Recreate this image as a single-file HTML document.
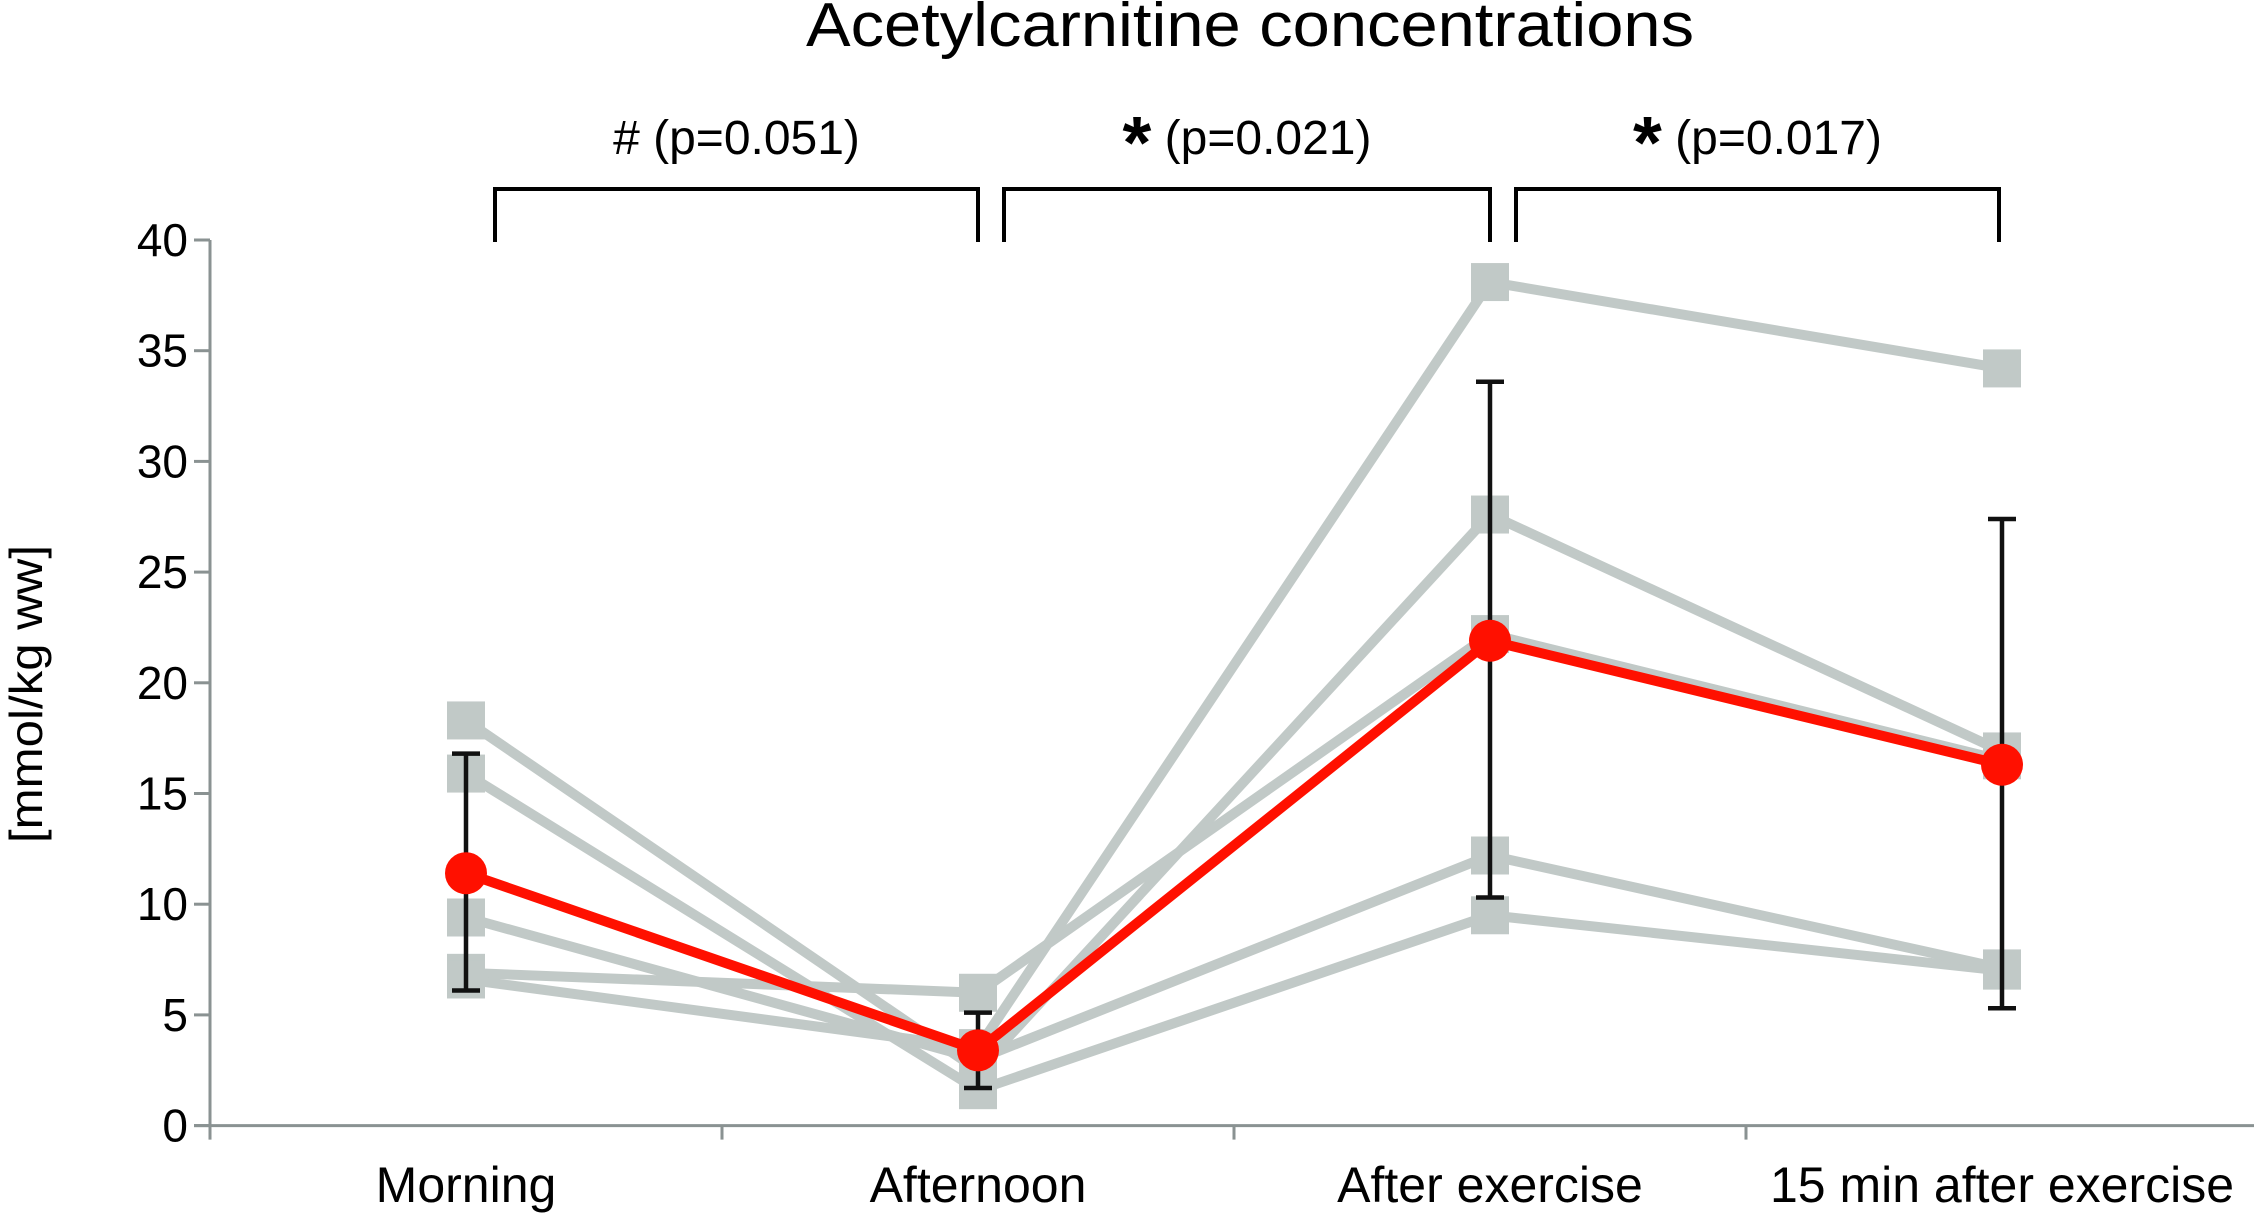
<!DOCTYPE html>
<html><head><meta charset="utf-8"><style>
html,body{margin:0;padding:0;background:#fff;}
svg{display:block;font-family:"Liberation Sans",Arial,sans-serif;}
</style></head><body>
<svg id="chart" width="2254" height="1228" viewBox="0 0 2254 1228" xmlns="http://www.w3.org/2000/svg">
<text x="1250" y="46" font-size="62" text-anchor="middle" textLength="888" lengthAdjust="spacingAndGlyphs" fill="#000">Acetylcarnitine concentrations</text>
<g id="axes"></g>
<g id="brackets"></g>
<g id="marks"></g>
<text transform="translate(42,694) rotate(-90)" font-size="46" text-anchor="middle" textLength="298" lengthAdjust="spacingAndGlyphs" fill="#000">[mmol/kg ww]</text>
</svg>
<script>
const categories = ["Morning", "Afternoon", "After exercise", "15 min after exercise"];
const subjectA = [18.3, 2.5, 27.6, 16.9];
const subjectB = [15.9, 1.6, 9.5, 7.0];
const subjectC = [9.4, 3.0, 12.2, 7.1];
const subjectD = [6.9, 6.0, 22.2, 16.5];
const subjectE = [6.6, 3.5, 38.1, 34.2];
const meanValues = [11.4, 3.4, 21.9, 16.3];
const errLow = [6.1, 1.7, 10.3, 5.3];
const errHigh = [16.8, 5.1, 33.6, 27.4];
const yTicks = [0, 5, 10, 15, 20, 25, 30, 35, 40];
const brackets = [[0, 1, "#", " (p=0.051)"], [1, 2, "*", " (p=0.021)"], [2, 3, "*", " (p=0.017)"]];

const NS = "http://www.w3.org/2000/svg";
const X0 = 210, CW = 512, Y0 = 1125.6, Y40 = 240;
function yScale(v){ return Y0 - (Y0 - Y40) * v / 40; }
function xScale(i){ return X0 + CW * (i + 0.5); }
function mk(tag, attrs, parent){ const e = document.createElementNS(NS, tag); for (const k in attrs) e.setAttribute(k, attrs[k]); parent.appendChild(e); return e; }

const axes = document.getElementById("axes");
const axisCol = "#8a9292";
let yl = mk("line", {x1:X0, y1:Y40, x2:X0, y2:Y0+14, stroke:axisCol, "stroke-width":3}, axes);


let xl = mk("line", {x1:X0-16, y1:Y0, x2:2254, y2:Y0, stroke:axisCol, "stroke-width":3}, axes);


yTicks.forEach(t => {
  const y = yScale(t);
  mk("line", {x1:X0-16, y1:y, x2:X0, y2:y, stroke:axisCol, "stroke-width":3}, axes);
  const tx = mk("text", {x:X0-22, y:y+16, "font-size":46, "text-anchor":"end", fill:"#000"}, axes);
  tx.textContent = t;
  
  
});
for (let i = 1; i <= categories.length; i++) {
  const x = X0 + CW * i;
  mk("line", {x1:x, y1:Y0, x2:x, y2:Y0+14, stroke:axisCol, "stroke-width":3}, axes);
}
categories.forEach((c, i) => {
  const tx = mk("text", {x:xScale(i), y:1202, "font-size":50, "text-anchor":"middle", fill:"#000"}, axes);
  tx.textContent = c;
  
  
});

const bg = document.getElementById("brackets");
brackets.forEach((b, k) => {
  const xa = xScale(b[0]) + (k === 0 ? 29 : 26), xb = xScale(b[1]) + (k === 2 ? -3 : 0);
  const p = mk("path", {d:`M${xa},242 V189 H${xb} V242`, fill:"none", stroke:"#000", "stroke-width":4}, bg);
  
  
  const tx = mk("text", {x:(xa+xb)/2, y:154, "font-size":48, "text-anchor":"middle", fill:"#000"}, bg);
  
  
  const s1 = mk("tspan", b[1] === 0 ? {} : {}, tx);
  if (b[2] === "*") { s1.setAttribute("font-size", "74"); s1.setAttribute("font-weight", "bold"); s1.setAttribute("dy", "14"); }
  s1.textContent = b[2];
  const s2 = mk("tspan", {}, tx);
  if (b[2] === "*") s2.setAttribute("dy", "-14");
  s2.textContent = b[3];
});

const marks = document.getElementById("marks");
const grey = "#c1c9c7";
[subjectA, subjectB, subjectC, subjectD, subjectE].forEach((s, si) => {
  const pl = mk("polyline", {points:s.map((v,i)=>xScale(i)+","+yScale(v)).join(" "), fill:"none", stroke:grey, "stroke-width":10, "stroke-linejoin":"round"}, marks);
  
  
});
[subjectA, subjectB, subjectC, subjectD, subjectE].forEach(s => {
  s.forEach((v, i) => {
    const r = mk("rect", {x:xScale(i)-19, y:yScale(v)-19, width:38, height:38, fill:grey}, marks);
    
    
  });
});
meanValues.forEach((v, i) => {
  const x = xScale(i), y1 = yScale(errLow[i]), y2 = yScale(errHigh[i]);
  const e = mk("path", {d:`M${x},${y1} V${y2} M${x-14},${y1} H${x+14} M${x-14},${y2} H${x+14}`, stroke:"#111", "stroke-width":4.5, fill:"none"}, marks);
  
  
});
const ml = mk("polyline", {points:meanValues.map((v,i)=>xScale(i)+","+yScale(v)).join(" "), fill:"none", stroke:"#ff1000", "stroke-width":10, "stroke-linejoin":"round"}, marks);


meanValues.forEach((v, i) => {
  const c = mk("circle", {cx:xScale(i), cy:yScale(v), r:21, fill:"#ff1000"}, marks);
  
  
});
</script>
</body></html>
